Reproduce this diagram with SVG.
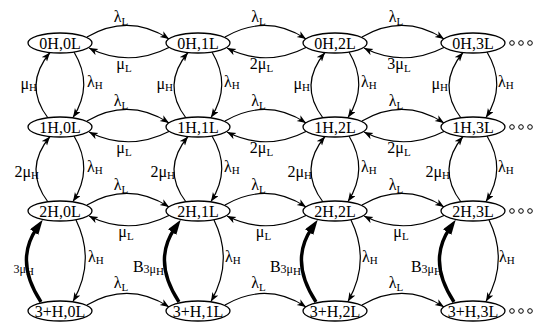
<svg xmlns="http://www.w3.org/2000/svg" width="540" height="324" viewBox="0 0 540 324">
<style>
.n ellipse{fill:#fff;stroke:#000;stroke-width:1.3}
.n text{font-family:"Liberation Serif",serif;font-size:16px;text-anchor:middle;fill:#000}
.c path{fill:none;stroke:#000;stroke-width:1.2;marker-end:url(#a)}
.c path.t{stroke-width:3.4;marker-end:url(#b)}
.l{font-family:"Liberation Serif",serif;font-size:16px;fill:#000}
.m{text-anchor:middle}
.e{text-anchor:end}
.d circle{fill:none;stroke:#000;stroke-width:1}
</style>
<defs>
<marker id="a" markerUnits="userSpaceOnUse" markerWidth="10" markerHeight="8" refX="9" refY="3.5" orient="auto"><path d="M0,0 L9,3.5 L0,7 L2.5,3.5 z" fill="#000"/></marker>
<marker id="b" markerUnits="userSpaceOnUse" markerWidth="16" markerHeight="11" refX="5" refY="5" orient="auto"><path d="M0,0 L15,5 L0,10 z" fill="#000"/></marker>
</defs>
<g class="c" id="connectors">
<!-- row 0 horizontal -->
<path d="M87,37 Q129,13 169,39"/><path d="M225,37 Q266.5,13 306,39"/><path d="M362,37 Q404,13 444,39"/>
<path d="M170,47 Q129,68 89,48"/><path d="M307,47 Q266.5,68 227,48"/><path d="M445,47 Q404,68 364,48"/>
<!-- row 1 horizontal -->
<path d="M87,121 Q129,97 169,123"/><path d="M225,121 Q266.5,97 306,123"/><path d="M362,121 Q404,97 444,123"/>
<path d="M170,131 Q129,152 89,132"/><path d="M307,131 Q266.5,152 227,132"/><path d="M445,131 Q404,152 364,132"/>
<!-- row 2 horizontal -->
<path d="M87,205 Q129,181 169,207"/><path d="M225,205 Q266.5,181 306,207"/><path d="M362,205 Q404,181 444,207"/>
<path d="M170,215 Q129,236 89,216"/><path d="M307,215 Q266.5,236 227,216"/><path d="M445,215 Q404,236 364,216"/>
<!-- row 3 horizontal -->
<path d="M87,305 Q129,281 169,307"/><path d="M225,305 Q266.5,281 306,307"/><path d="M362,305 Q404,281 444,307"/>
<!-- vertical row0-row1 -->
<path d="M48,118 Q23,85 50,52.5"/><path d="M74,52 Q94,85 73,117.5"/>
<path d="M186,118 Q161,85 188,52.5"/><path d="M212,52 Q232,85 211,117.5"/>
<path d="M323,118 Q298,85 325,52.5"/><path d="M349,52 Q369,85 348,117.5"/>
<path d="M461,118 Q436,85 463,52.5"/><path d="M487,52 Q507,85 486,117.5"/>
<!-- vertical row1-row2 -->
<path d="M48,202 Q23,169 50,136.5"/><path d="M74,136 Q94,169 73,201.5"/>
<path d="M186,202 Q161,169 188,136.5"/><path d="M212,136 Q232,169 211,201.5"/>
<path d="M323,202 Q298,169 325,136.5"/><path d="M349,136 Q369,169 348,201.5"/>
<path d="M461,202 Q436,169 463,136.5"/><path d="M487,136 Q507,169 486,201.5"/>
<!-- vertical row2-row3 -->
<path class="t" d="M41,302 Q14,261 37,228"/><path d="M76,220 Q96,261 73,301.5"/>
<path class="t" d="M179,302 Q152,261 175,228"/><path d="M214,220 Q234,261 211,301.5"/>
<path class="t" d="M316,302 Q289,261 312,228"/><path d="M351,220 Q371,261 348,301.5"/>
<path class="t" d="M454,302 Q427,261 450,228"/><path d="M489,220 Q509,261 486,301.5"/>
</g>
<g id="labels">
<!-- row 0 -->
<text class="l m" x="121" y="22">λ<tspan font-size="11" dy="3">L</tspan></text>
<text class="l m" x="258.5" y="22">λ<tspan font-size="11" dy="3">L</tspan></text>
<text class="l m" x="396" y="22">λ<tspan font-size="11" dy="3">L</tspan></text>
<text class="l m" x="124" y="69">μ<tspan font-size="11" dy="3">L</tspan></text>
<text class="l m" x="261.5" y="69">2μ<tspan font-size="11" dy="3">L</tspan></text>
<text class="l m" x="399" y="69">3μ<tspan font-size="11" dy="3">L</tspan></text>
<!-- row 1 -->
<text class="l m" x="121" y="106">λ<tspan font-size="11" dy="3">L</tspan></text>
<text class="l m" x="258.5" y="106">λ<tspan font-size="11" dy="3">L</tspan></text>
<text class="l m" x="396" y="106">λ<tspan font-size="11" dy="3">L</tspan></text>
<text class="l m" x="124" y="153">μ<tspan font-size="11" dy="3">L</tspan></text>
<text class="l m" x="261.5" y="153">2μ<tspan font-size="11" dy="3">L</tspan></text>
<text class="l m" x="399" y="153">2μ<tspan font-size="11" dy="3">L</tspan></text>
<!-- row 2 -->
<text class="l m" x="121" y="190">λ<tspan font-size="11" dy="3">L</tspan></text>
<text class="l m" x="258.5" y="190">λ<tspan font-size="11" dy="3">L</tspan></text>
<text class="l m" x="396" y="190">λ<tspan font-size="11" dy="3">L</tspan></text>
<text class="l m" x="126" y="237">μ<tspan font-size="11" dy="3">L</tspan></text>
<text class="l m" x="263.5" y="237">μ<tspan font-size="11" dy="3">L</tspan></text>
<text class="l m" x="401" y="237">μ<tspan font-size="11" dy="3">L</tspan></text>
<!-- row 3 -->
<text class="l m" x="121" y="288">λ<tspan font-size="11" dy="3">L</tspan></text>
<text class="l m" x="258.5" y="288">λ<tspan font-size="11" dy="3">L</tspan></text>
<text class="l m" x="396" y="288">λ<tspan font-size="11" dy="3">L</tspan></text>
<!-- vertical row0-1 -->
<text class="l e" x="37" y="89">μ<tspan font-size="11" dy="2">H</tspan></text>
<text class="l e" x="173" y="89">μ<tspan font-size="11" dy="2">H</tspan></text>
<text class="l e" x="310" y="89">μ<tspan font-size="11" dy="2">H</tspan></text>
<text class="l e" x="448" y="89">μ<tspan font-size="11" dy="2">H</tspan></text>
<text class="l" x="87" y="87">λ<tspan font-size="11" dy="2">H</tspan></text>
<text class="l" x="224" y="87">λ<tspan font-size="11" dy="2">H</tspan></text>
<text class="l" x="361" y="87">λ<tspan font-size="11" dy="2">H</tspan></text>
<text class="l" x="498" y="87">λ<tspan font-size="11" dy="2">H</tspan></text>
<!-- vertical row1-2 -->
<text class="l e" x="39" y="177">2μ<tspan font-size="11" dy="2">H</tspan></text>
<text class="l e" x="175" y="177">2μ<tspan font-size="11" dy="2">H</tspan></text>
<text class="l e" x="312" y="177">2μ<tspan font-size="11" dy="2">H</tspan></text>
<text class="l e" x="450" y="177">2μ<tspan font-size="11" dy="2">H</tspan></text>
<text class="l" x="87" y="172">λ<tspan font-size="11" dy="2">H</tspan></text>
<text class="l" x="224" y="172">λ<tspan font-size="11" dy="2">H</tspan></text>
<text class="l" x="361" y="172">λ<tspan font-size="11" dy="2">H</tspan></text>
<text class="l" x="498" y="172">λ<tspan font-size="11" dy="2">H</tspan></text>
<!-- vertical row2-3 -->
<text class="l e" x="34" y="273"><tspan font-size="12">3μ</tspan><tspan font-size="11" dy="2">H</tspan></text>
<text class="l e" x="164" y="272">B<tspan font-size="12" dy="1">3μ</tspan><tspan font-size="11" dy="2">H</tspan></text>
<text class="l e" x="301" y="272">B<tspan font-size="12" dy="1">3μ</tspan><tspan font-size="11" dy="2">H</tspan></text>
<text class="l e" x="442" y="272">B<tspan font-size="12" dy="1">3μ</tspan><tspan font-size="11" dy="2">H</tspan></text>
<text class="l" x="88" y="262">λ<tspan font-size="11" dy="2">H</tspan></text>
<text class="l" x="225" y="262">λ<tspan font-size="11" dy="2">H</tspan></text>
<text class="l" x="362" y="262">λ<tspan font-size="11" dy="2">H</tspan></text>
<text class="l" x="499" y="262">λ<tspan font-size="11" dy="2">H</tspan></text>
</g>
<g class="n" id="n00"><ellipse cx="60" cy="43" rx="32" ry="10"/><text x="60" y="48.5">0H,0L</text></g>
<g class="n" id="n01"><ellipse cx="198" cy="43" rx="32" ry="10"/><text x="198" y="48.5">0H,1L</text></g>
<g class="n" id="n02"><ellipse cx="335" cy="43" rx="32" ry="10"/><text x="335" y="48.5">0H,2L</text></g>
<g class="n" id="n03"><ellipse cx="473" cy="43" rx="32" ry="10"/><text x="473" y="48.5">0H,3L</text></g>
<g class="n" id="n10"><ellipse cx="60" cy="127" rx="32" ry="10"/><text x="60" y="132.5">1H,0L</text></g>
<g class="n" id="n11"><ellipse cx="198" cy="127" rx="32" ry="10"/><text x="198" y="132.5">1H,1L</text></g>
<g class="n" id="n12"><ellipse cx="335" cy="127" rx="32" ry="10"/><text x="335" y="132.5">1H,2L</text></g>
<g class="n" id="n13"><ellipse cx="473" cy="127" rx="32" ry="10"/><text x="473" y="132.5">1H,3L</text></g>
<g class="n" id="n20"><ellipse cx="60" cy="211" rx="32" ry="10"/><text x="60" y="216.5">2H,0L</text></g>
<g class="n" id="n21"><ellipse cx="198" cy="211" rx="32" ry="10"/><text x="198" y="216.5">2H,1L</text></g>
<g class="n" id="n22"><ellipse cx="335" cy="211" rx="32" ry="10"/><text x="335" y="216.5">2H,2L</text></g>
<g class="n" id="n23"><ellipse cx="473" cy="211" rx="32" ry="10"/><text x="473" y="216.5">2H,3L</text></g>
<g class="n" id="n30"><ellipse cx="60" cy="311" rx="32" ry="10"/><text x="60" y="316.5">3+H,0L</text></g>
<g class="n" id="n31"><ellipse cx="198" cy="311" rx="32" ry="10"/><text x="198" y="316.5">3+H,1L</text></g>
<g class="n" id="n32"><ellipse cx="335" cy="311" rx="32" ry="10"/><text x="335" y="316.5">3+H,2L</text></g>
<g class="n" id="n33"><ellipse cx="473" cy="311" rx="32" ry="10"/><text x="473" y="316.5">3+H,3L</text></g>
<g class="d" id="dots">
<circle cx="512" cy="43" r="2.3"/><circle cx="521" cy="43" r="2.3"/><circle cx="530" cy="43" r="2.3"/>
<circle cx="512" cy="127" r="2.3"/><circle cx="521" cy="127" r="2.3"/><circle cx="530" cy="127" r="2.3"/>
<circle cx="512" cy="211" r="2.3"/><circle cx="521" cy="211" r="2.3"/><circle cx="530" cy="211" r="2.3"/>
<circle cx="512" cy="311" r="2.3"/><circle cx="521" cy="311" r="2.3"/><circle cx="530" cy="311" r="2.3"/>
</g>
</svg>
